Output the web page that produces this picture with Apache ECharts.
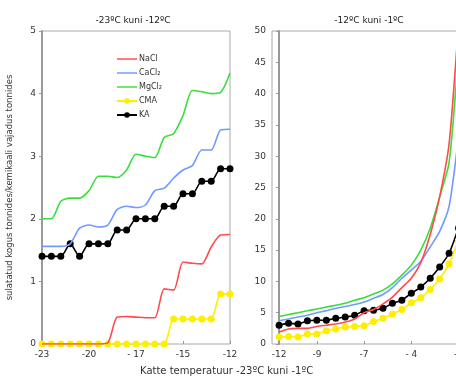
<!DOCTYPE html>
<html>
<head>
<meta charset="utf-8">
<script src="https://cdn.jsdelivr.net/npm/echarts@6/dist/echarts.min.js"></script>
<style>
  html, body { margin: 0; padding: 0; background: #fff; }
  #chart { width: 456px; height: 376px; }
</style>
</head>
<body>
<div id="chart"></div>
<script>
// point index along each panel, -23..-12 (left) and -12..-1 (right)
const leftTickIdx = [0, 5, 10, 15, 20];
const leftTickLabels = ['-23', '-20', '- 17', '-15', '-12'];
const rightTickIdx = [0, 4, 9, 14, 19];
const rightTickLabels = ['-12', '-9', '-7', '- 4', '-1'];

const names = ['NaCl', 'CaCl₂', 'MgCl₂', 'CMA', 'KA'];

const leftNaCl = [0, 0, 0, 0, 0, 0, 0, 0.02, 0.43, 0.44, 0.43, 0.42, 0.42, 0.88, 0.86, 1.31, 1.29, 1.28, 1.55, 1.74, 1.75];
const leftCaCl2 = [1.56, 1.56, 1.56, 1.6, 1.85, 1.9, 1.87, 1.9, 2.15, 2.2, 2.18, 2.22, 2.45, 2.49, 2.65, 2.78, 2.85, 3.1, 3.1, 3.42, 3.43];
const leftMgCl2 = [2.0, 2.0, 2.28, 2.33, 2.33, 2.45, 2.68, 2.68, 2.66, 2.78, 3.03, 3.0, 2.98, 3.3, 3.36, 3.65, 4.05, 4.03, 4.0, 4.02, 4.33];
const leftCMA = [0, 0, 0, 0, 0, 0, 0, 0, 0, 0, 0, 0, 0, 0, 0.4, 0.4, 0.4, 0.4, 0.4, 0.8, 0.8];
const leftKA = [1.4, 1.4, 1.4, 1.6, 1.4, 1.6, 1.6, 1.6, 1.82, 1.82, 2.0, 2.0, 2.0, 2.2, 2.2, 2.4, 2.4, 2.6, 2.6, 2.8, 2.8];

const rightNaCl = [1.9, 2.4, 2.5, 2.5, 2.8, 3.0, 3.2, 3.5, 4.0, 5.0, 5.5, 6.4, 7.5, 9.0, 10.5, 13.0, 17.5, 23.5, 32, 51, 70];
const rightCaCl2 = [3.7, 4.0, 4.3, 4.6, 5.0, 5.3, 5.7, 6.0, 6.3, 6.7, 7.3, 7.9, 9.0, 10.5, 11.8, 13.2, 15.5, 18, 22, 33, 45];
const rightMgCl2 = [4.4, 4.7, 5.0, 5.3, 5.6, 5.9, 6.2, 6.5, 7.0, 7.4, 8.0, 8.6, 9.6, 11.0, 12.6, 15.0, 18.5, 23.5, 29, 46, 60];
const rightCMA = [1.1, 1.2, 1.1, 1.6, 1.6, 2.1, 2.4, 2.7, 2.8, 2.9, 3.6, 4.1, 4.8, 5.5, 6.6, 7.4, 8.7, 10.4, 12.8, 16.5, 20];
const rightKA = [3.0, 3.3, 3.2, 3.7, 3.8, 3.8, 4.1, 4.3, 4.6, 5.3, 5.4, 5.7, 6.5, 7.0, 8.1, 9.1, 10.5, 12.3, 14.5, 18.5, 22];

const colors = ['#ff4b4b', '#6f9cff', '#3ade3a', '#ffee00', '#000000'];
const font = 'DejaVu Sans';

var dom = document.getElementById('chart');
var myChart = echarts.init(dom, null, { renderer: 'canvas' });

function pairs(arr) {
    return arr.map(function (v, i) { return [i, v]; });
}

function makeSeries(arrs, axisIndex) {
    return arrs.map(function (arr, k) {
        const dotted = k >= 3;
        return {
            name: names[k],
            type: 'line',
            xAxisIndex: axisIndex,
            yAxisIndex: axisIndex,
            data: pairs(arr),
            smooth: 0.25,
            symbol: dotted ? 'circle' : 'none',
            symbolSize: 7,
            showSymbol: dotted,
            lineStyle: { width: 1.6, color: colors[k] },
            itemStyle: { color: colors[k] },
            z: 10 - k
        };
    });
}

function xAxisFor(idx, labels, min, max, gridIndex) {
    return {
        type: 'value',
        gridIndex: gridIndex,
        min: min,
        max: max,
        splitLine: { show: false },
        axisLine: { show: false },
        axisTick: {
            show: true,
            inside: true,
            length: 3,
            customValues: idx,
            lineStyle: { color: '#999' }
        },
        axisLabel: {
            customValues: idx,
            color: '#333',
            fontFamily: font,
            fontSize: 9,
            margin: 6,
            formatter: function (v) {
                const j = idx.indexOf(v);
                return j >= 0 ? labels[j] : '';
            }
        }
    };
}

function yAxisFor(max, interval, gridIndex, name) {
    return {
        type: 'value',
        gridIndex: gridIndex,
        min: 0,
        max: max,
        interval: interval,
        name: name,
        nameLocation: 'middle',
        nameGap: 28,
        nameTextStyle: { color: '#333', fontFamily: font, fontSize: 8.5 },
        splitLine: { show: false },
        axisLine: { show: true, lineStyle: { color: '#999', width: 2 } },
        axisTick: { show: true, length: 3, lineStyle: { color: '#999' } },
        axisLabel: { color: '#333', fontFamily: font, fontSize: 9, margin: 6 }
    };
}

// plain line icon for the series without markers
const lineIcon = 'path://M0,0H22V1.6H0Z';

const option = {
    animation: false,
    backgroundColor: '#fff',
    textStyle: { fontFamily: font },
    title: [
        {
            text: '-23ºC kuni -12ºC',
            left: 128, top: 11, textAlign: 'center',
            textStyle: { fontSize: 9, fontWeight: 'normal', color: '#222', fontFamily: font }
        },
        {
            text: '-12ºC kuni -1ºC',
            left: 364, top: 11, textAlign: 'center',
            textStyle: { fontSize: 9, fontWeight: 'normal', color: '#222', fontFamily: font }
        }
    ],
    legend: {
        data: [
            { name: names[0], icon: lineIcon },
            { name: names[1], icon: lineIcon },
            { name: names[2], icon: lineIcon },
            { name: names[3] },
            { name: names[4] }
        ],
        orient: 'vertical',
        left: 111,
        top: 50,
        itemWidth: 20,
        itemHeight: 7,
        itemGap: 6,
        textStyle: { fontSize: 8, color: '#333', fontFamily: font, padding: [0, 0, 0, -3] }
    },
    grid: [
        { left: 42, width: 188, top: 31, bottom: 32, show: true, borderColor: '#aaa', borderWidth: 1, outerBoundsMode: 'none' },
        { left: 272, width: 196, top: 31, bottom: 32, show: true, borderColor: '#aaa', borderWidth: 1, outerBoundsMode: 'none' }
    ],
    xAxis: [
        xAxisFor(leftTickIdx, leftTickLabels, 0, 20, 0),
        xAxisFor(rightTickIdx, rightTickLabels, -0.75, 20, 1)
    ],
    yAxis: [
        yAxisFor(5, 1, 0, 'sulatatud kogus tonnides/kemikaali vajadus tonnides'),
        yAxisFor(50, 5, 1, '')
    ],
    graphic: [
        {
            type: 'text',
            left: 140,
            top: 366,
            style: {
                text: 'Katte temperatuur -23ºC kuni -1ºC',
                fill: '#333',
                font: '10px "DejaVu Sans"'
            }
        }
    ],
    series: makeSeries([leftNaCl, leftCaCl2, leftMgCl2, leftCMA, leftKA], 0)
        .concat(makeSeries([rightNaCl, rightCaCl2, rightMgCl2, rightCMA, rightKA], 1))
};

myChart.setOption(option);
window.addEventListener('resize', myChart.resize);
</script>
</body>
</html>
